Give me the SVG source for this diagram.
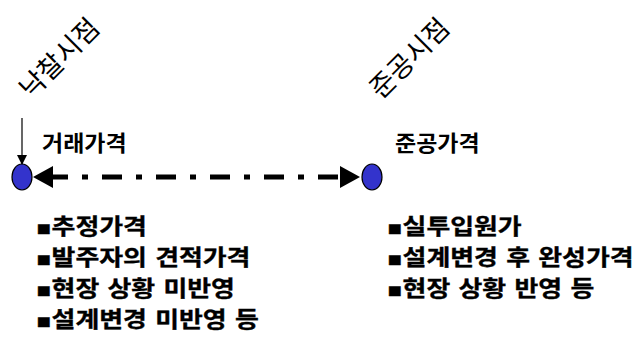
<svg xmlns="http://www.w3.org/2000/svg" width="638" height="343" viewBox="0 0 638 343">
<style>
text{font-family:"Noto Sans CJK KR","Noto Sans",sans-serif;fill:#000}
.rot{font-size:27px}
.lbl{font-size:21.5px;font-weight:bold}
.bul{font-size:21.4px;font-weight:bold;word-spacing:2px;stroke:#000;stroke-width:0.35px}
.b{font-family:"DejaVu Sans",sans-serif;font-size:19px}
.node{fill:#3333CC;stroke:#000;stroke-width:1.2}
</style>
<defs>
<marker id="sm" markerWidth="10" markerHeight="10" refX="9" refY="5" orient="auto" markerUnits="userSpaceOnUse"><path d="M0,0 L10,5 L0,10 z" fill="#000"/></marker>
</defs>
<g id="connectors">
<line x1="22" y1="118" x2="22" y2="164" stroke="#000" stroke-width="1.2" marker-end="url(#sm)"/>
<line x1="48" y1="177" x2="340" y2="177" stroke="#000" stroke-width="5" stroke-dasharray="20,14,6,14"/>
<polygon points="33,177 53,166 53,188" fill="#000"/>
<polygon points="360,177 340,166 340,188" fill="#000"/>
</g>
<g id="node-left">
<ellipse class="node" cx="22" cy="177" rx="10" ry="13"/>
<text class="rot" transform="translate(31,100) rotate(-45)">낙찰시점</text>
<text class="lbl" transform="translate(42,151) scale(1.07,1)">거래가격</text>
</g>
<g id="node-right">
<ellipse class="node" cx="372" cy="177" rx="10" ry="13"/>
<text class="rot" transform="translate(381,100) rotate(-45)">준공시점</text>
<text class="lbl" transform="translate(395,151) scale(1.07,1)">준공가격</text>
</g>
<g id="list-left">
<text class="bul" transform="translate(36,234) scale(1.21,1)"><tspan class="b">▪</tspan>추정가격</text>
<text class="bul" transform="translate(36,265) scale(1.21,1)"><tspan class="b">▪</tspan>발주자의 견적가격</text>
<text class="bul" transform="translate(36,296) scale(1.21,1)"><tspan class="b">▪</tspan>현장 상황 미반영</text>
<text class="bul" transform="translate(36,327) scale(1.21,1)"><tspan class="b">▪</tspan>설계변경 미반영 등</text>
</g>
<g id="list-right">
<text class="bul" transform="translate(387,234) scale(1.21,1)"><tspan class="b">▪</tspan>실투입원가</text>
<text class="bul" transform="translate(387,265) scale(1.21,1)"><tspan class="b">▪</tspan>설계변경 후 완성가격</text>
<text class="bul" transform="translate(387,296) scale(1.21,1)"><tspan class="b">▪</tspan>현장 상황 반영 등</text>
</g>
</svg>
